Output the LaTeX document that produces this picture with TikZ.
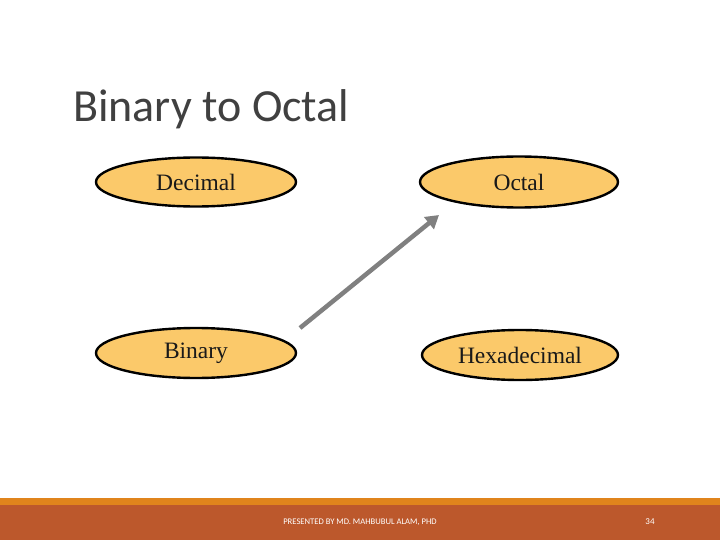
\documentclass[tikz,border=0pt]{standalone}
\usepackage{fontspec}
\setmainfont{Liberation Serif}
\newfontfamily\carlito{Carlito}
\usetikzlibrary{shapes.geometric,arrows.meta}
\definecolor{ellfill}{HTML}{FBC96A}
\definecolor{stripe}{HTML}{E0841C}
\definecolor{band}{HTML}{BC582C}
\definecolor{titlegray}{HTML}{404040}
\definecolor{arrowgray}{HTML}{808080}
\begin{document}
\begin{tikzpicture}[x=1pt,y=-1pt,
  numbox/.style={ellipse,draw=black,line width=2.4pt,fill=ellfill,minimum width=200pt,minimum height=49pt,inner sep=0pt,font=\fontsize{23.5}{26}\selectfont,text=black!90},
  conv/.style={draw=arrowgray,line width=4.5pt,-{Triangle[length=13pt,width=15pt]}}]
\useasboundingbox (0,0) rectangle (720,540);
\fill[white] (0,0) rectangle (720,540);
% footer
\fill[stripe] (0,498) rectangle (720,505);
\fill[band] (0,505) rectangle (720,540);
\node[font=\carlito\fontsize{8.6}{9}\selectfont,text=white,inner sep=0pt] (footer) at (360,522) {PRESENTED BY MD. MAHBUBUL ALAM, PHD};
\node[font=\carlito\fontsize{9}{10}\selectfont,text=white,inner sep=0pt] (pagenum) at (650,522) {34};
% title
\node[anchor=base west,font=\carlito\fontsize{46}{50}\selectfont,text=titlegray,inner sep=0pt] (title) at (73,122) {Binary to Octal};
% ellipses
\node[numbox] (dec) at (196,182) {Decimal};
\node[numbox,minimum width=198pt,minimum height=51pt] (oct) at (519,182) {Octal};
\node[numbox,minimum height=50pt] (bin) at (196,353) {Binary};
\node[numbox,minimum width=196pt,minimum height=50pt] (hex) at (520,355) {Hexadecimal};
% arrow
\coordinate (astart) at (300,328);
\coordinate (aend) at (439,215);
\draw[conv] (astart) -- (aend);
\end{tikzpicture}
\end{document}
